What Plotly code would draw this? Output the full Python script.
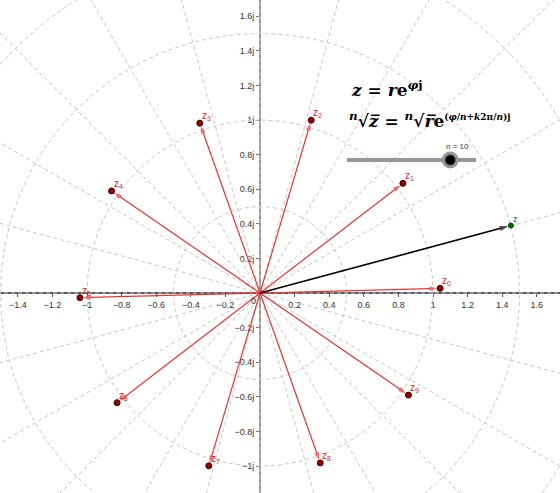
import numpy as np
import plotly.graph_objects as go

# z and its n-th roots (complex plane, re / im parts)
z_re = 1.45
z_im = 0.39
n_value = 10
n_min, n_max = 2, 12

roots_re = [1.041, 0.826, 0.296, -0.348, -0.858, -1.041, -0.826, -0.296, 0.348, 0.858]
roots_im = [0.027, 0.634, 0.999, 0.982, 0.590, -0.027, -0.634, -0.999, -0.982, -0.590]
root_labels = ["z<sub>%d</sub>" % k for k in range(10)]

x_ticks = [-1.4, -1.2, -1.0, -0.8, -0.6, -0.4, -0.2, 0.2, 0.4, 0.6, 0.8, 1.0, 1.2, 1.4, 1.6]
y_ticks = [-1.0, -0.8, -0.6, -0.4, -0.2, 0.2, 0.4, 0.6, 0.8, 1.0, 1.2, 1.4, 1.6]
y_tick_text = ["−1j", "−0.8j", "−0.6j", "−0.4j", "−0.2j", "0.2j", "0.4j", "0.6j", "0.8j",
               "1j", "1.2j", "1.4j", "1.6j"]

# polar grid
grid_radii = [0.5, 1.0, 1.5, 2.0]
grid_angle_step = 15

X_RANGE = [-1.503, 1.734]
Y_RANGE = [-1.156, 1.694]

RED = "rgb(232,52,52)"
DARK_RED = "rgb(150,0,0)"
GRID = "rgb(200,200,200)"
LABEL_FONT = "Liberation Sans, Arial"

fig = go.Figure()

# polar grid: circles and radial lines, each as one trace split by gaps
t = np.linspace(0, 2 * np.pi, 361)
gx, gy = [], []
for r in grid_radii:
    gx += list(r * np.cos(t)) + [None]
    gy += list(r * np.sin(t)) + [None]
for a in range(0, 360, grid_angle_step):
    ang = np.deg2rad(a)
    gx += [0, 2.6 * np.cos(ang), None]
    gy += [0, 2.6 * np.sin(ang), None]
fig.add_trace(go.Scatter(x=gx, y=gy, mode="lines", connectgaps=False,
                         line=dict(color=GRID, width=1, dash="4px,3px"),
                         hoverinfo="skip", showlegend=False))


def add_vector(x_end, y_end, color, width, head):
    # vector from the origin with an arrow head at its end
    fig.add_trace(go.Scatter(
        x=[0, x_end], y=[0, y_end], mode="lines+markers",
        line=dict(color=color, width=width),
        marker=dict(symbol=["circle", "arrow"], size=[0, head], color=color,
                    angleref="previous", standoff=3, line=dict(width=0)),
        hoverinfo="skip", showlegend=False))


for xr, yi in zip(roots_re, roots_im):
    add_vector(xr, yi, RED, 1.2, 8)
add_vector(z_re, z_im, "black", 1.6, 8.5)

# root points
fig.add_trace(go.Scatter(x=roots_re, y=roots_im, mode="markers",
                         marker=dict(size=6, color=DARK_RED, line=dict(color="rgb(60,0,0)", width=1)),
                         showlegend=False))
# z point
fig.add_trace(go.Scatter(x=[z_re], y=[z_im], mode="markers",
                         marker=dict(size=5, color="rgb(0,110,0)", line=dict(color="rgb(0,60,0)", width=1)),
                         showlegend=False))

annotations = []
for xr, yi, lab in zip(roots_re, roots_im, root_labels):
    annotations.append(dict(x=xr, y=yi, xref="x", yref="y", text=lab, showarrow=False,
                            xanchor="left", yanchor="bottom", xshift=0, yshift=-1,
                            font=dict(family=LABEL_FONT, size=10, color="rgb(210,40,40)")))

annotations.append(dict(x=z_re, y=z_im, xref="x", yref="y", text="z", showarrow=False,
                        xanchor="left", yanchor="bottom", xshift=0, yshift=0,
                        font=dict(family=LABEL_FONT, size=9, color="rgb(0,110,0)")))

# origin label
annotations.append(dict(x=0, y=0, xref="x", yref="y", text="0", showarrow=False,
                        xanchor="right", yanchor="top", xshift=-2, yshift=-1,
                        font=dict(family=LABEL_FONT, size=9, color="#333")))

# formulas
annotations.append(dict(x=349 / 560, y=1 - 89 / 493, xref="paper", yref="paper", xanchor="left",
                        yanchor="middle", showarrow=False,
                        text="<b><i>z</i> = <i>r</i>e<sup><i>φ</i>j</sup></b>",
                        font=dict(family="DejaVu Serif", size=17, color="black")))
annotations.append(dict(x=347 / 560, y=1 - 120 / 493, xref="paper", yref="paper", xanchor="left",
                        yanchor="middle", showarrow=False,
                        text="<b><sup><i>n</i></sup>√<i>z\u0305</i> = "
                             "<sup><i>n</i></sup>√<i>r\u0305</i>"
                             "e<sup><span style='font-size:9px'>(<i>φ</i>/<i>n</i>+<i>k</i>2π/<i>n</i>)j</span></sup></b>",
                        font=dict(family="DejaVu Serif", size=17, color="black")))

# n slider
sx0, sx1, sy = 347 / 560, 476 / 560, 1 - 160 / 493
knob_x = sx0 + (n_value - n_min) / (n_max - n_min) * (sx1 - sx0)
shapes = [
    dict(type="line", xref="paper", yref="paper", x0=sx0, x1=sx1, y0=sy, y1=sy,
         line=dict(color="rgb(150,150,150)", width=4)),
    dict(type="circle", xref="paper", yref="paper", xsizemode="pixel", ysizemode="pixel",
         xanchor=knob_x, yanchor=sy, x0=-8.5, x1=8.5, y0=-8.5, y1=8.5,
         fillcolor="rgb(150,150,150)", line=dict(width=0)),
    dict(type="circle", xref="paper", yref="paper", xsizemode="pixel", ysizemode="pixel",
         xanchor=knob_x, yanchor=sy, x0=-5, x1=5, y0=-5, y1=5,
         fillcolor="black", line=dict(color="rgb(60,60,60)", width=1)),
]
annotations.append(dict(x=knob_x, y=sy, xref="paper", yref="paper", text="n = %d" % n_value,
                        showarrow=False, xanchor="center", yanchor="bottom", xshift=7, yshift=7,
                        font=dict(family=LABEL_FONT, size=8, color="#333")))

fig.update_layout(
    width=560, height=493, margin=dict(l=0, r=0, t=0, b=0),
    paper_bgcolor="white", plot_bgcolor="white",
    annotations=annotations, shapes=shapes, showlegend=False,
    xaxis=dict(range=X_RANGE, anchor="free", position=(0 - Y_RANGE[0]) / (Y_RANGE[1] - Y_RANGE[0]),
               showgrid=False, zeroline=False, showline=True, linecolor="rgb(90,90,90)", linewidth=1.5,
               ticks="outside", ticklen=3, tickcolor="rgb(90,90,90)", tickvals=x_ticks,
               tickfont=dict(family=LABEL_FONT, size=9, color="#333"),
               layer="below traces", fixedrange=True),
    yaxis=dict(range=Y_RANGE, anchor="free", position=(0 - X_RANGE[0]) / (X_RANGE[1] - X_RANGE[0]),
               showgrid=False, zeroline=False, showline=True, linecolor="rgb(150,150,150)", linewidth=2,
               ticks="outside", ticklen=3, tickcolor="rgb(120,120,120)",
               tickvals=y_ticks, ticktext=y_tick_text,
               tickfont=dict(family=LABEL_FONT, size=9, color="#333"),
               layer="below traces", fixedrange=True),
)

fig.write_html("out.html")
